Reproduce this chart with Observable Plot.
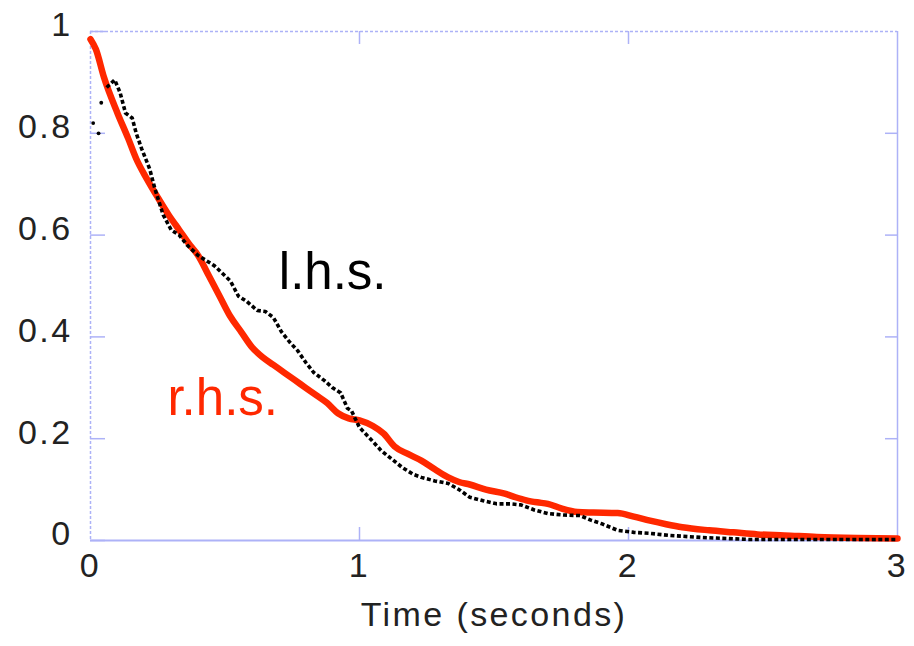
<!DOCTYPE html>
<html>
<head>
<meta charset="utf-8">
<script src="https://cdn.jsdelivr.net/npm/d3@7"></script>
<script src="https://cdn.jsdelivr.net/npm/@observablehq/plot@0.6"></script>
<style>
  html, body { margin: 0; padding: 0; background: #fff; }
  #chart svg { display: block; }
  g[aria-label="x-axis tick label"] text,
  g[aria-label="y-axis tick label"] text,
  g.xlabel text { letter-spacing: 2.4px; }
</style>
</head>
<body>
<div id="chart"></div>
<script>
// ---- data ----
const rhsTime  = [0.00,0.02,0.05,0.10,0.14,0.17,0.21,0.25,0.29,0.33,0.37,0.40,0.44,0.48,0.52,0.56,0.60,0.64,0.68,0.72,0.76,0.80,0.84,0.88,0.92,0.96,1.00,1.05,1.09,1.13,1.18,1.23,1.28,1.33,1.37,1.41,1.47,1.54,1.58,1.62,1.66,1.70,1.75,1.81,1.87,1.96,2.02,2.08,2.14,2.20,2.30,2.39,2.48,2.58,2.70,2.85,3.00];
const rhsValue = [0.985,0.965,0.91,0.84,0.79,0.75,0.71,0.674,0.64,0.61,0.58,0.56,0.52,0.48,0.44,0.41,0.38,0.36,0.345,0.33,0.315,0.30,0.285,0.27,0.25,0.24,0.236,0.225,0.21,0.185,0.17,0.157,0.14,0.124,0.115,0.11,0.10,0.092,0.085,0.079,0.075,0.072,0.063,0.056,0.055,0.054,0.047,0.039,0.032,0.026,0.02,0.016,0.012,0.010,0.007,0.005,0.004];

const lhsTime  = [0.06,0.09,0.11,0.13,0.155,0.17,0.19,0.22,0.24,0.27,0.30,0.33,0.36,0.40,0.43,0.46,0.50,0.52,0.55,0.58,0.62,0.65,0.68,0.71,0.74,0.77,0.80,0.83,0.87,0.90,0.93,0.955,0.97,1.00,1.04,1.08,1.12,1.16,1.20,1.23,1.28,1.33,1.37,1.41,1.46,1.51,1.56,1.60,1.65,1.70,1.76,1.82,1.86,1.90,1.96,2.02,2.08,2.15,2.27,2.45,2.70,3.00];
const lhsValue = [0.89,0.905,0.88,0.84,0.83,0.80,0.77,0.73,0.69,0.64,0.61,0.60,0.58,0.56,0.55,0.54,0.52,0.51,0.48,0.47,0.452,0.45,0.438,0.41,0.39,0.373,0.35,0.33,0.314,0.30,0.29,0.26,0.255,0.222,0.20,0.177,0.16,0.143,0.13,0.124,0.117,0.112,0.10,0.085,0.078,0.072,0.072,0.070,0.06,0.053,0.05,0.049,0.04,0.033,0.02,0.016,0.014,0.01,0.006,0.002,0.002,0.002];

// stray early samples of the l.h.s.
const lhsStrayTime  = [0.01,0.03,0.04];
const lhsStrayValue = [0.82,0.80,0.86];

const xTicks = [0,1,2,3];
const yTicks = [0,0.2,0.4,0.6,0.8,1];
const labelText  = ["l.h.s.","r.h.s."];
const labelTime  = [0.70,0.286];
const labelValue = [0.495,0.246];
const labelColor = ["#000000","#ff2800"];
const xLabel = "Time (seconds)";

// ---- build tables ----
const rhs = rhsTime.map((t,i)=>({t, v: rhsValue[i]}));
const lhs = lhsTime.map((t,i)=>({t, v: lhsValue[i]}));
const stray = lhsStrayTime.map((t,i)=>({t, v: lhsStrayValue[i]}));
const labels = labelText.map((s,i)=>({s, t: labelTime[i], v: labelValue[i], c: labelColor[i]}));

const frameColor = "#adb2f7";
const W = 914, H = 646, ML = 90, MR = 17, MT = 31, MB = 106;
const FW = W - ML - MR, FH = H - MT - MB;

const chart = Plot.plot({
  width: W, height: H,
  marginLeft: ML, marginRight: MR, marginTop: MT, marginBottom: MB,
  style: {fontFamily: "'Liberation Sans', Arial, Helvetica, sans-serif", fontSize: "34px", color: "#222", background: "#fff"},
  x: {domain: [0,3]},
  y: {domain: [0,1]},
  marks: [
    // frame
    Plot.ruleY([1], {stroke: frameColor, strokeWidth: 1.5, strokeDasharray: "3,2"}),
    Plot.ruleX([0], {stroke: frameColor, strokeWidth: 1.5, strokeDasharray: "3,2"}),
    Plot.ruleY([0], {stroke: frameColor, strokeWidth: 1.8}),
    Plot.ruleX([3], {stroke: frameColor, strokeWidth: 1.5}),
    // inward ticks
    Plot.tickY(yTicks, {y: d=>d, stroke: frameColor, strokeWidth: 1.5, insetRight: FW - 15}),
    Plot.tickY(yTicks.filter(d=>d>0 && d<1), {y: d=>d, stroke: frameColor, strokeWidth: 1.5, insetLeft: FW - 12}),
    Plot.tickX(xTicks.filter(d=>d>0 && d<3), {x: d=>d, stroke: frameColor, strokeWidth: 1.5, insetTop: FH - 13}),
    Plot.tickX(xTicks.filter(d=>d>0 && d<3), {x: d=>d, stroke: frameColor, strokeWidth: 1.5, insetBottom: FH - 13}),
    // axes labels
    Plot.axisY(yTicks, {anchor: "left", tickSize: 0, tickPadding: 18, dy: -6, tickFormat: d=>String(d), fill: "#222", label: null}),
    Plot.axisX(xTicks, {anchor: "bottom", tickSize: 0, tickPadding: 12, tickFormat: d=>String(d), fill: "#222", label: null}),
    // series
    Plot.line(rhs, {x: "t", y: "v", stroke: "#ff2800", strokeWidth: 6.5, strokeLinejoin: "round", strokeLinecap: "round", curve: "monotone-x"}),
    Plot.line(lhs, {x: "t", y: "v", stroke: "#000", strokeWidth: 3.6, strokeDasharray: "4,2.5", strokeLinecap: "butt"}),
    Plot.dot(stray, {x: "t", y: "v", r: 1.9, fill: "#000", stroke: null}),
    // annotations
    Plot.text(labels, {x: "t", y: "v", text: "s", fill: "c", fontSize: 51, textAnchor: "start", lineAnchor: "bottom"}),
    Plot.text([xLabel], {text: d=>d, frameAnchor: "bottom", dy: 85, fill: "#222", fontSize: 34})
  ]
});
document.getElementById("chart").appendChild(chart);
// letter spacing for the axis title
const xl = chart.querySelectorAll("g[aria-label='text']");
if (xl.length) xl[xl.length-1].classList.add("xlabel");
</script>
</body>
</html>
